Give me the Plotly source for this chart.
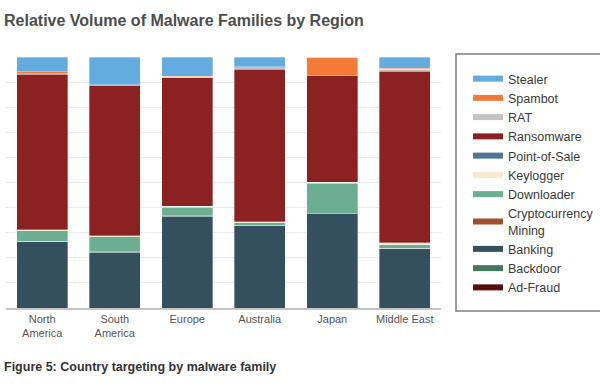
import plotly.graph_objects as go

# ---------------- data ----------------
regions = ["North<br>America", "South<br>America", "Europe", "Australia", "Japan", "Middle East"]

families = ["Ad-Fraud", "Backdoor", "Banking", "Cryptocurrency Mining", "Downloader",
            "Keylogger", "Point-of-Sale", "Ransomware", "RAT", "Spambot", "Stealer"]

legend_labels = ["Ad-Fraud", "Backdoor", "Banking", "Cryptocurrency<br>Mining", "Downloader",
                 "Keylogger", "Point-of-Sale", "Ransomware", "RAT", "Spambot", "Stealer"]

ad_fraud     = [0.0, 0.0, 0.0, 0.0, 0.0, 0.0]
backdoor     = [0.0, 0.0, 0.0, 0.0, 0.0, 0.0]
banking      = [26.5, 22.3, 36.6, 32.8, 37.5, 23.8]
crypto       = [0.1, 0.1, 0.1, 0.1, 0.1, 0.1]
downloader   = [4.2, 5.9, 3.4, 1.1, 12.2, 1.3]
keylogger    = [0.4, 0.5, 0.4, 0.4, 0.3, 0.8]
point_of_sale = [0.0, 0.0, 0.0, 0.0, 0.0, 0.0]
ransomware   = [61.9, 59.8, 51.2, 60.7, 42.4, 68.4]
rat          = [0.2, 0.0, 0.4, 1.0, 0.0, 0.8]
spambot      = [0.8, 0.3, 0.2, 0.1, 7.5, 0.4]
stealer      = [5.9, 11.1, 7.7, 3.8, 0.0, 4.4]

series = [ad_fraud, backdoor, banking, crypto, downloader, keylogger,
          point_of_sale, ransomware, rat, spambot, stealer]

colors = ["#5a0b0b", "#43775e", "#344f5e", "#a0522d", "#6bae91", "#f8ead0",
          "#4e7696", "#8b2120", "#c2c2c2", "#f47a38", "#62acdf"]

y_tickvals = [0, 10, 20, 30, 40, 50, 60, 70, 80, 90, 100]

title_text = "Relative Volume of Malware Families by Region"
caption_text = "Figure 5: Country targeting by malware family"

# ---------------- layout geometry (pixels) ----------------
W, H = 600, 390
ML, MR, MT, MB = 6, 159, 57, 82
PW, PH = W - ML - MR, H - MT - MB

def px_x(px):
    return (px - ML) / PW

def px_y(py):
    return (H - MB - py) / PH

fig = go.Figure()

for name, vals, col in zip(families, series, colors):
    fig.add_trace(go.Bar(
        x=regions, y=vals, name=name, showlegend=False,
        marker=dict(color=col, line=dict(color="rgba(255,255,255,0.55)", width=0.6)),
    ))

# legend entries (wide flat swatches), top entry = Stealer
for name, col in zip(reversed(legend_labels), reversed(colors)):
    fig.add_trace(go.Scatter(
        x=[None], y=[None], mode="lines", name=name,
        line=dict(color=col, width=6), showlegend=True, hoverinfo="skip",
    ))

fig.update_layout(
    template="none",
    width=W, height=H,
    margin=dict(l=ML, r=MR, t=MT, b=MB, autoexpand=False),
    paper_bgcolor="white", plot_bgcolor="white",
    barmode="stack", bargap=0.29,
    font=dict(family="Liberation Sans, Arial, sans-serif", color="#444"),
    showlegend=True,
    legend=dict(
        xref="container", yref="paper",
        x=468 / W, y=px_y(64), xanchor="left", yanchor="top",
        traceorder="normal", borderwidth=0, bgcolor="rgba(0,0,0,0)",
        font=dict(size=12.5, color="#3a3a3a"),
        itemwidth=30,
    ),
    xaxis=dict(
        showgrid=False, showline=True, linecolor="#c4c4c4", linewidth=1.5,
        ticks="", tickfont=dict(size=11, color="#555"), automargin=False,
        zeroline=False,
    ),
    yaxis=dict(
        range=[0, 100], tickvals=y_tickvals, showticklabels=False,
        showgrid=True, gridcolor="#e9e9e9", gridwidth=1,
        showline=False, zeroline=False, ticks="", automargin=False,
    ),
    shapes=[dict(
        type="rect", xref="paper", yref="paper",
        x0=px_x(456), x1=px_x(660), y0=px_y(311), y1=px_y(54),
        line=dict(color="#7d7d7d", width=1.5), fillcolor="rgba(0,0,0,0)",
    )],
    annotations=[
        dict(text=title_text, xref="paper", yref="paper",
             x=px_x(2), y=px_y(21), xanchor="left", yanchor="middle",
             showarrow=False, font=dict(size=16, color="#4d4d4d", weight="bold")),
        dict(text=caption_text, xref="paper", yref="paper",
             x=px_x(2), y=px_y(367), xanchor="left", yanchor="middle",
             showarrow=False, font=dict(size=12.5, color="#333", weight="bold")),
    ],
)

fig.write_html(
    "out.html",
    config={"displayModeBar": False},
    post_script="document.body.style.margin='0';document.body.style.padding='0';",
)
